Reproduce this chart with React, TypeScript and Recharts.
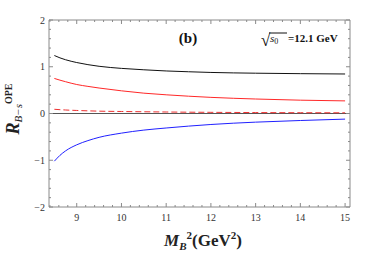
import React from "react";
import { LineChart, Line, XAxis, YAxis, ReferenceLine } from "recharts";

const mb2 = [8.5, 8.625, 8.75, 9, 9.25, 9.5, 10, 10.5, 11, 11.5, 12, 13, 14, 15];
const rTotal = [1.24, 1.19, 1.15, 1.09, 1.045, 1.01, 0.965, 0.935, 0.91, 0.893, 0.878, 0.862, 0.852, 0.845];
const rRed = [0.75, 0.713, 0.68, 0.62, 0.58, 0.545, 0.485, 0.435, 0.4, 0.37, 0.345, 0.31, 0.285, 0.27];
const rDashed = [0.09, 0.082, 0.075, 0.065, 0.057, 0.05, 0.043, 0.037, 0.032, 0.028, 0.025, 0.02, 0.017, 0.015];
const rBlue = [-1.02, -0.895, -0.8, -0.67, -0.58, -0.51, -0.42, -0.355, -0.31, -0.27, -0.235, -0.185, -0.15, -0.12];

const xTicks = [
  8.4, 8.6, 8.8, 9, 9.2, 9.4, 9.6, 9.8, 10, 10.2, 10.4, 10.6, 10.8, 11, 11.2, 11.4, 11.6, 11.8,
  12, 12.2, 12.4, 12.6, 12.8, 13, 13.2, 13.4, 13.6, 13.8, 14, 14.2, 14.4, 14.6, 14.8, 15,
];
const yTicks = [
  -2, -1.8, -1.6, -1.4, -1.2, -1, -0.8, -0.6, -0.4, -0.2, 0, 0.2, 0.4, 0.6, 0.8, 1, 1.2, 1.4,
  1.6, 1.8, 2,
];

const data = mb2.map((x, i) => ({
  x,
  total: rTotal[i],
  red: rRed[i],
  dashed: rDashed[i],
  blue: rBlue[i],
}));

const FONT = "Liberation Serif, Times New Roman, serif";
const FRAME = "#8a8a8a";
const isMajor = (v: number) => Math.abs(v - Math.round(v)) < 1e-6;
const fmt = (v: number) => (v < 0 ? "\u2212" + Math.abs(Math.round(v)) : String(Math.round(v)));

const BottomTick = (props: any) => {
  const { x, y, payload } = props;
  const v = payload.value;
  const major = isMajor(v);
  return (
    <g>
      <line x1={x} x2={x} y1={y} y2={y - (major ? 4 : 2)} stroke={FRAME} strokeWidth={1} />
      {major && (
        <text x={x} y={y + 14} textAnchor="middle" fontFamily={FONT} fontSize={10} fill="#333">
          {fmt(v)}
        </text>
      )}
    </g>
  );
};
const TopTick = (props: any) => {
  const { x, y, payload } = props;
  const major = isMajor(payload.value);
  return <line x1={x} x2={x} y1={y} y2={y + (major ? 4 : 2)} stroke={FRAME} strokeWidth={1} />;
};
const LeftTick = (props: any) => {
  const { x, y, payload } = props;
  const v = payload.value;
  const major = isMajor(v);
  return (
    <g>
      <line x1={x} x2={x + (major ? 4 : 2)} y1={y} y2={y} stroke={FRAME} strokeWidth={1} />
      {major && (
        <text x={x - 4} y={y + 3.5} textAnchor="end" fontFamily={FONT} fontSize={10} fill="#333">
          {fmt(v)}
        </text>
      )}
    </g>
  );
};
const RightTick = (props: any) => {
  const { x, y, payload } = props;
  const major = isMajor(payload.value);
  return <line x1={x} x2={x - (major ? 4 : 2)} y1={y} y2={y} stroke={FRAME} strokeWidth={1} />;
};

const XLabel = () => {
  const cx = 203;
  const by = 246;
  return (
    <text x={cx} y={by} textAnchor="middle" fontFamily={FONT} fontWeight="bold" fontSize={17} fill="#222">
      <tspan fontStyle="italic">M</tspan>
      <tspan fontStyle="italic" fontSize={11} dy={4}>B</tspan>
      <tspan fontSize={11} dy={-11}>2</tspan>
      <tspan dy={7}>(GeV</tspan>
      <tspan fontSize={11} dy={-7}>2</tspan>
      <tspan dy={7}>)</tspan>
    </text>
  );
};

const YLabel = () => {
  const bx = 19;
  const cy = 109;
  return (
    <text
      x={bx}
      y={cy}
      transform={`rotate(-90, ${bx}, ${cy})`}
      textAnchor="middle"
      fontFamily={FONT}
      fill="#222"
    >
      <tspan fontStyle="italic" fontWeight="bold" fontSize={18}>R</tspan>
      <tspan fontStyle="italic" fontSize={11} dy={3}>{"B\u2212s"}</tspan>
      <tspan fontWeight="bold" fontSize={10} dy={-10}>OPE</tspan>
    </text>
  );
};

const Annotations = () => (
  <g fontFamily={FONT} fill="#111">
    <text x={188} y={43} textAnchor="middle" fontWeight="bold" fontSize={15}>(b)</text>
    <text x={261} y={46} fontSize={17}>{"\u221A"}</text>
    <line x1={269} x2={287} y1={33} y2={33} stroke="#111" strokeWidth={1} />
    <text x={270} y={42} fontStyle="italic" fontSize={11}>
      s<tspan fontStyle="normal" fontSize={8} dy={2}>0</tspan>
    </text>
    <text x={288} y={42} fontWeight="bold" fontSize={11}>=12.1 GeV</text>
  </g>
);

export default function App() {
  return (
    <div style={{ position: "absolute", left: 0, top: 0, width: 371, height: 253, background: "#fff" }}>
      <LineChart
        width={371}
        height={253}
        data={data}
        margin={{ top: 19, right: 20, bottom: 45, left: 48 }}
      >
        <XAxis
          xAxisId="b"
          dataKey="x"
          type="number"
          domain={[8.38, 15.11]}
          ticks={xTicks}
          interval={0}
          height={1}
          tickSize={0}
          tickMargin={0}
          tickLine={false}
          axisLine={{ stroke: FRAME }}
          tick={<BottomTick />}
          allowDataOverflow
          label={{ content: <XLabel /> }}
        />
        <XAxis
          xAxisId="t"
          orientation="top"
          dataKey="x"
          type="number"
          domain={[8.38, 15.11]}
          ticks={xTicks}
          interval={0}
          height={1}
          tickSize={0}
          tickMargin={0}
          tickLine={false}
          axisLine={{ stroke: FRAME }}
          tick={<TopTick />}
          allowDataOverflow
          label={{ content: <Annotations /> }}
        />
        <YAxis
          yAxisId="l"
          type="number"
          domain={[-2, 2]}
          ticks={yTicks}
          interval={0}
          width={1}
          tickSize={0}
          tickMargin={0}
          tickLine={false}
          axisLine={{ stroke: FRAME }}
          tick={<LeftTick />}
          allowDataOverflow
          label={{ content: <YLabel /> }}
        />
        <YAxis
          yAxisId="r"
          orientation="right"
          type="number"
          domain={[-2, 2]}
          ticks={yTicks}
          interval={0}
          width={1}
          tickSize={0}
          tickMargin={0}
          tickLine={false}
          axisLine={{ stroke: FRAME }}
          tick={<RightTick />}
          allowDataOverflow
        />
        <ReferenceLine xAxisId="b" yAxisId="l" y={0} stroke="#555" strokeWidth={1} />
        <Line xAxisId="b" yAxisId="l" dataKey="total" type="monotone" stroke="#111" strokeWidth={1} dot={false} isAnimationActive={false} />
        <Line xAxisId="b" yAxisId="l" dataKey="red" type="monotone" stroke="#ff2828" strokeWidth={1} dot={false} isAnimationActive={false} />
        <Line xAxisId="b" yAxisId="l" dataKey="dashed" type="monotone" stroke="#ee3030" strokeWidth={1} strokeDasharray="6 3" dot={false} isAnimationActive={false} />
        <Line xAxisId="b" yAxisId="l" dataKey="blue" type="monotone" stroke="#2020ff" strokeWidth={1} dot={false} isAnimationActive={false} />
      </LineChart>
    </div>
  );
}
